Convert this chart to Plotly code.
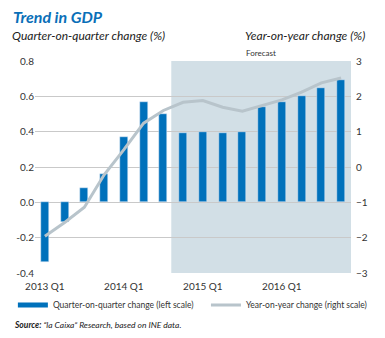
import plotly.graph_objects as go

quarters = ["2013 Q1", "2013 Q2", "2013 Q3", "2013 Q4",
            "2014 Q1", "2014 Q2", "2014 Q3", "2014 Q4",
            "2015 Q1", "2015 Q2", "2015 Q3", "2015 Q4",
            "2016 Q1", "2016 Q2", "2016 Q3", "2016 Q4"]
qoq = [-0.34, -0.11, 0.08, 0.16, 0.37, 0.57, 0.50, 0.39,
       0.40, 0.39, 0.40, 0.54, 0.57, 0.60, 0.65, 0.69]
yoy = [-1.96, -1.57, -1.14, -0.22, 0.49, 1.24, 1.60, 1.83,
       1.88, 1.69, 1.58, 1.74, 1.90, 2.12, 2.38, 2.52]
left_ticks = [-0.4, -0.2, 0.0, 0.2, 0.4, 0.6, 0.8]
right_ticks = [-3, -2, -1, 0, 1, 2, 3]
xlabel_idx = [0, 4, 8, 12]
year_sep = [-0.5, 3.5, 7.5, 11.5, 15.5]
forecast_start = 6.4

BLUE = "#0071bb"
GREY_LINE = "#b8c4cb"
SHADE = "#d2dfe6"
TXT = "#333333"
FONT = "Lato, 'Open Sans', sans-serif"

x = list(range(len(quarters)))

fig = go.Figure()
fig.add_trace(go.Bar(x=x, y=qoq, marker_color=BLUE, width=0.4,
                     showlegend=False, name="qoq"))
fig.add_trace(go.Scatter(x=x, y=yoy, yaxis="y2", mode="lines",
                         line=dict(color=GREY_LINE, width=3),
                         showlegend=False, name="yoy"))
# legend proxies
fig.add_trace(go.Scatter(x=[None], y=[None], mode="lines",
                         line=dict(color=BLUE, width=5), legend="legend",
                         name="Quarter-on-quarter change (left scale)"))
fig.add_trace(go.Scatter(x=[None], y=[None], mode="lines",
                         line=dict(color=GREY_LINE, width=3), legend="legend2",
                         name="Year-on-year change (right scale)"))

fig.add_shape(type="rect", xref="x", yref="paper", x0=forecast_start, x1=15.5,
              y0=0, y1=1, fillcolor=SHADE, line_width=0, layer="below")

legend_common = dict(orientation="h", xanchor="left", y=-0.151,
                     yanchor="middle", font=dict(size=8.5, color=TXT),
                     itemwidth=30, bgcolor="rgba(0,0,0,0)")

fig.update_layout(
    width=385, height=338,
    margin=dict(l=35, r=34, t=61, b=65, autoexpand=False),
    paper_bgcolor="white", plot_bgcolor="white",
    font=dict(family=FONT, color=TXT, size=10),
    bargap=0,
    xaxis=dict(range=[-0.5, 15.5], tickvals=xlabel_idx,
               ticktext=[quarters[i] for i in xlabel_idx],
               showgrid=False, zeroline=False, showline=False,
               ticks="", ticklabelstandoff=6,
               tickfont=dict(size=10, color=TXT)),
    xaxis2=dict(range=[-0.5, 15.5], overlaying="x", anchor="free",
                position=(0 - left_ticks[0]) / (left_ticks[-1] - left_ticks[0]),
                side="bottom", tickvals=year_sep, ticks="outside", ticklen=3,
                tickcolor="#7f7f7f", showline=True, linecolor="#7f7f7f",
                linewidth=1, showticklabels=False, showgrid=False,
                zeroline=False),
    yaxis=dict(range=[left_ticks[0], left_ticks[-1]], tickvals=left_ticks,
               ticktext=[f"{v:.1f}" for v in left_ticks],
               showgrid=True, gridcolor="#c9c9c9", gridwidth=1,
               zeroline=False, showline=False, ticks="",
               tickfont=dict(size=10, color=TXT)),
    yaxis2=dict(range=[right_ticks[0], right_ticks[-1]], tickvals=right_ticks,
                overlaying="y", side="right", showgrid=False, zeroline=False,
                showline=False, ticks="", ticklabelstandoff=4,
                tickfont=dict(size=10, color=TXT)),
    legend=dict(x=-0.07, **legend_common),
    legend2=dict(x=0.541, **legend_common),
)

fig.add_annotation(text="<b><i>Trend in GDP</i></b>", xref="paper", yref="paper",
                   x=-0.075, y=1.0, yshift=45, xanchor="left", yanchor="middle",
                   showarrow=False, font=dict(size=16, color="#0a6fb8", family=FONT))
fig.add_annotation(text="<i>Quarter-on-quarter change (%)</i>", xref="paper",
                   yref="paper", x=-0.08, y=1.0, yshift=26, xanchor="left",
                   yanchor="middle", showarrow=False,
                   font=dict(size=12, color="#222222", family=FONT))
fig.add_annotation(text="<i>Year-on-year change (%)</i>", xref="paper",
                   yref="paper", x=1.05, y=1.0, yshift=26, xanchor="right",
                   yanchor="middle", showarrow=False,
                   font=dict(size=12, color="#222222", family=FONT))
fig.add_annotation(text="Forecast", xref="x", yref="paper",
                   x=(forecast_start + 15.5) / 2, y=1.0, yshift=8,
                   xanchor="center", yanchor="middle", showarrow=False,
                   font=dict(size=8, color=TXT, family=FONT))
fig.add_annotation(text="<b><i>Source:</i></b><i> \u201cla Caixa\u201d Research, based on INE data.</i>",
                   xref="paper", yref="paper", x=-0.072, y=0, yshift=-52,
                   xanchor="left", yanchor="middle", showarrow=False,
                   font=dict(size=8.5, color="#222222", family=FONT))

fig.write_html("out.html")
